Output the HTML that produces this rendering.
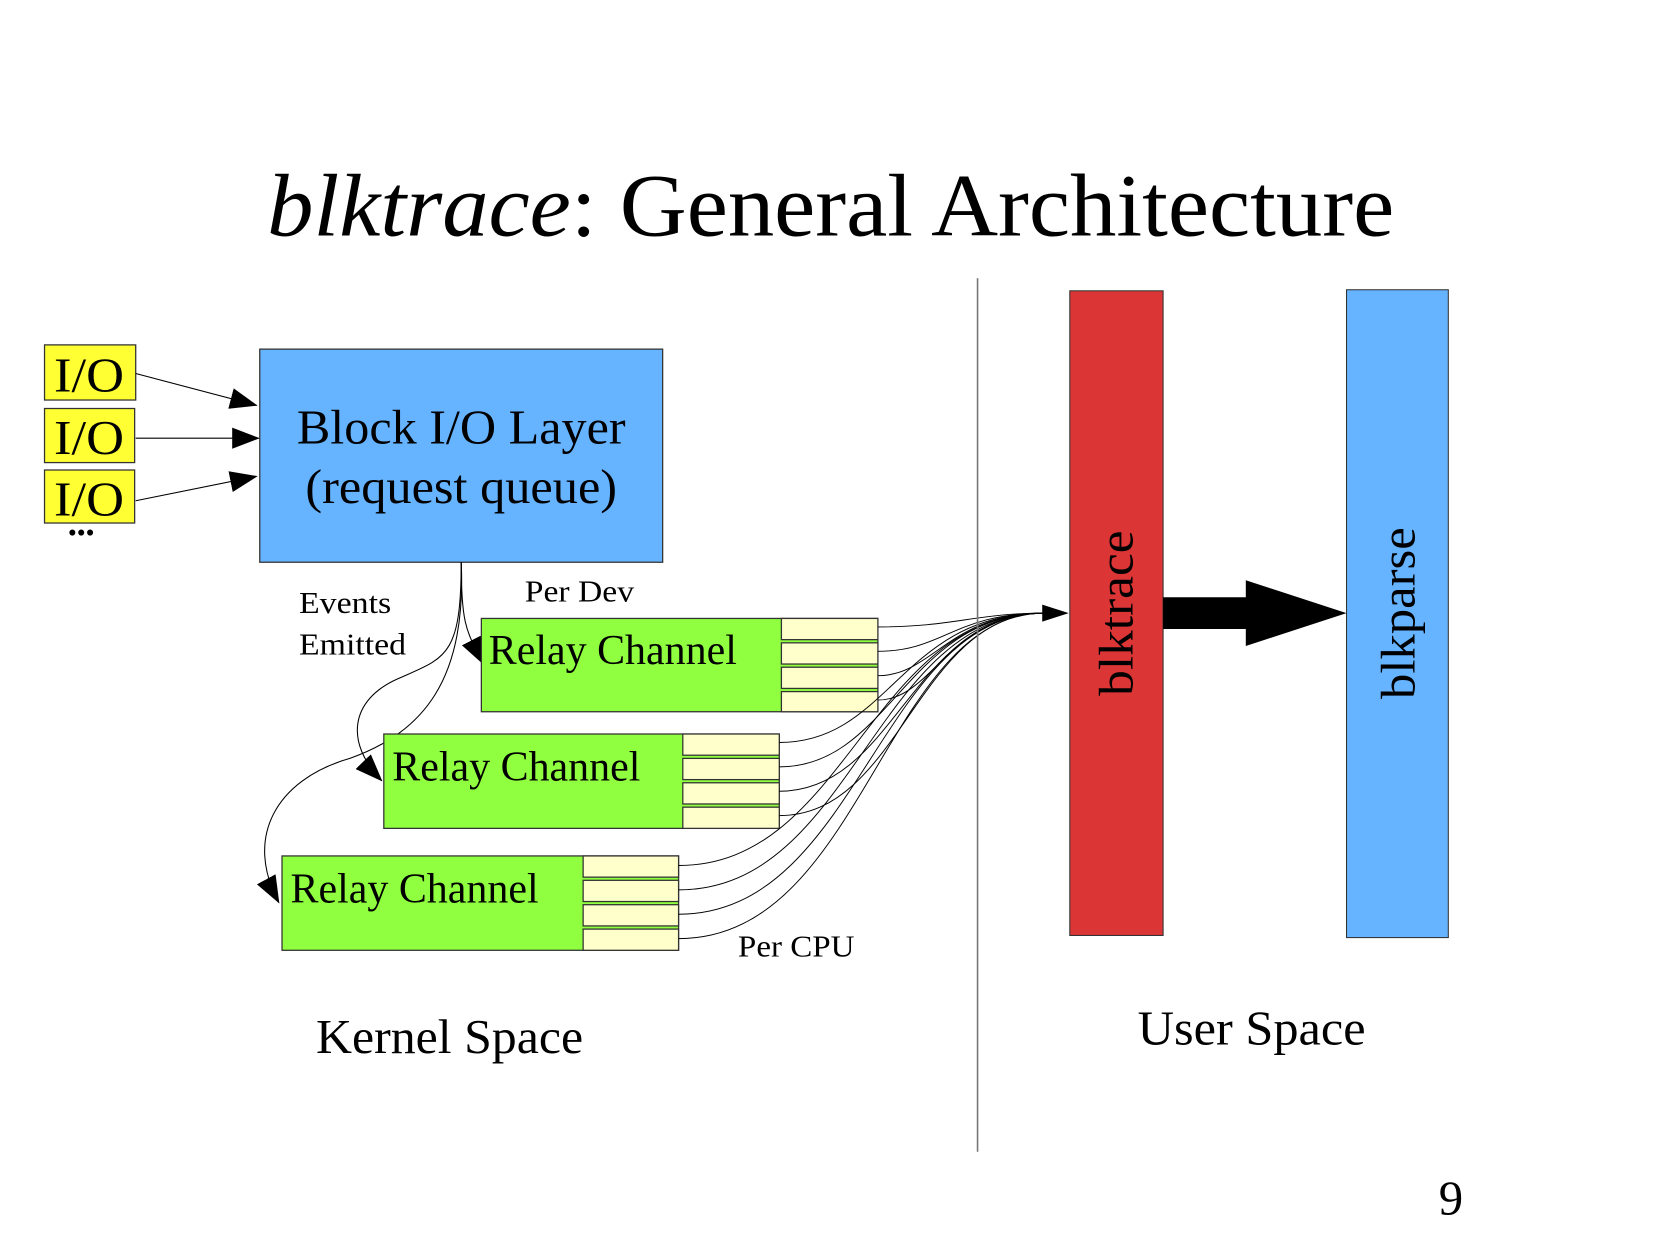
<!DOCTYPE html>
<html><head><meta charset="utf-8"><style>
html,body{margin:0;padding:0;background:#fff;}
svg{display:block;}
text{font-family:"Liberation Serif",serif;fill:#000;}
</style></head><body>
<svg width="1654" height="1239" viewBox="0 0 1560 1168" xmlns="http://www.w3.org/2000/svg">
<defs>
<marker id="ah2" markerWidth="26" markerHeight="20" refX="25" refY="10" orient="auto" markerUnits="userSpaceOnUse"><path d="M0,0 L26,10 L0,20 z" fill="#000"/></marker>
</defs>
<text x="252" y="222" font-size="84" textLength="1063" lengthAdjust="spacingAndGlyphs"><tspan font-style="italic">blktrace</tspan>: General Architecture</text>

<g stroke="#333" stroke-width="1.2" fill="#ffff33">
<rect x="42" y="325" width="86" height="52"/>
<rect x="42" y="385" width="85" height="51"/>
<rect x="42" y="443" width="85" height="50"/>
</g>
<g font-size="46"><text x="51" y="369" textLength="66" lengthAdjust="spacingAndGlyphs">I/O</text><text x="51" y="428" textLength="66" lengthAdjust="spacingAndGlyphs">I/O</text><text x="51" y="486" textLength="66" lengthAdjust="spacingAndGlyphs">I/O</text></g>
<text x="64" y="510" font-size="24">•••</text>

<rect x="245" y="329" width="380" height="201" fill="#66b3ff" stroke="#333" stroke-width="1.2"/>
<text x="280" y="418" font-size="46" textLength="310" lengthAdjust="spacingAndGlyphs">Block I/O Layer</text>
<text x="288" y="474" font-size="46" textLength="294" lengthAdjust="spacingAndGlyphs">(request queue)</text>

<g stroke="#000" stroke-width="1" fill="none">
<line x1="128" y1="352" x2="242" y2="382" marker-end="url(#ah2)"/>
<line x1="128" y1="413" x2="244" y2="413" marker-end="url(#ah2)"/>
<line x1="128" y1="472" x2="242" y2="449" marker-end="url(#ah2)"/>
<path d="M435,530 C435,590 440,595 456,626" marker-end="url(#ah2)"/>
<path d="M435,530 C435,620 420,620 375,640 C330,660 325,700 360,736" marker-end="url(#ah2)"/>
<path d="M435,530 C440,640 400,690 330,715 C260,735 230,790 263,851" marker-end="url(#ah2)"/>
</g>

<g font-size="29">
<text x="282" y="578" textLength="87" lengthAdjust="spacingAndGlyphs">Events</text><text x="282" y="617" textLength="101" lengthAdjust="spacingAndGlyphs">Emitted</text>
<text x="495" y="567" textLength="103" lengthAdjust="spacingAndGlyphs">Per Dev</text><text x="696" y="902" textLength="110" lengthAdjust="spacingAndGlyphs">Per CPU</text>
</g>

<g stroke="#333" stroke-width="1.2">
<rect x="454" y="583" width="374" height="88" fill="#8fff3f"/>
<rect x="362" y="692" width="373" height="89" fill="#8fff3f"/>
<rect x="266" y="807" width="374" height="89" fill="#8fff3f"/>
<g fill="#ffffcc">
<rect x="737" y="583" width="91" height="20"/><rect x="737" y="606" width="91" height="20"/><rect x="737" y="629" width="91" height="20"/><rect x="737" y="652" width="91" height="19"/>
<rect x="644" y="692" width="91" height="20"/><rect x="644" y="715" width="91" height="20"/><rect x="644" y="738" width="91" height="20"/><rect x="644" y="761" width="91" height="20"/>
<rect x="550" y="807" width="90" height="20"/><rect x="550" y="830" width="90" height="20"/><rect x="550" y="853" width="90" height="20"/><rect x="550" y="876" width="90" height="20"/>
</g></g>
<g font-size="40">
<text x="461" y="626" textLength="234" lengthAdjust="spacingAndGlyphs">Relay Channel</text>
<text x="370" y="736" textLength="234" lengthAdjust="spacingAndGlyphs">Relay Channel</text>
<text x="274" y="851" textLength="234" lengthAdjust="spacingAndGlyphs">Relay Channel</text>
</g>

<g stroke="#000" stroke-width="0.9" fill="none">
<path d="M828,591 C900,591 920,578 985,578"/>
<path d="M828,614 C890,614 900,578 985,578"/>
<path d="M828,637 C880,637 895,578 985,578"/>
<path d="M828,660 C880,660 895,578 985,578"/>
<path d="M735,700 C840,700 850,578 985,578"/>
<path d="M735,723 C840,723 855,578 985,578"/>
<path d="M735,746 C845,746 860,578 985,578"/>
<path d="M735,769 C850,769 865,578 985,578"/>
<path d="M640,816 C800,816 820,578 985,578"/>
<path d="M640,839 C805,839 825,578 985,578"/>
<path d="M640,862 C810,862 830,578 985,578"/>
<path d="M640,885 C815,885 835,578 985,578"/>
</g>
<path d="M983,570 L1008,578 L983,586 z" fill="#000"/>

<line x1="922" y1="262" x2="922" y2="1086" stroke="#777" stroke-width="1.5"/>

<rect x="1009" y="274" width="88" height="608" fill="#dc3535" stroke="#333" stroke-width="1"/>
<rect x="1270" y="273" width="96" height="611" fill="#66b3ff" stroke="#333" stroke-width="1"/>
<text transform="translate(1068,578) rotate(-90)" font-size="46" text-anchor="middle" textLength="156" lengthAdjust="spacingAndGlyphs">blktrace</text>
<text transform="translate(1334,578) rotate(-90)" font-size="46" text-anchor="middle" textLength="162" lengthAdjust="spacingAndGlyphs">blkparse</text>
<path d="M1097,563 L1175,563 L1175,547 L1270,578 L1175,609 L1175,593 L1097,593 z" fill="#000"/>

<text x="298" y="993" font-size="46" textLength="252" lengthAdjust="spacingAndGlyphs">Kernel Space</text>
<text x="1073" y="985" font-size="46" textLength="215" lengthAdjust="spacingAndGlyphs">User Space</text>
<text x="1357" y="1145" font-size="46">9</text>
</svg>
</body></html>
